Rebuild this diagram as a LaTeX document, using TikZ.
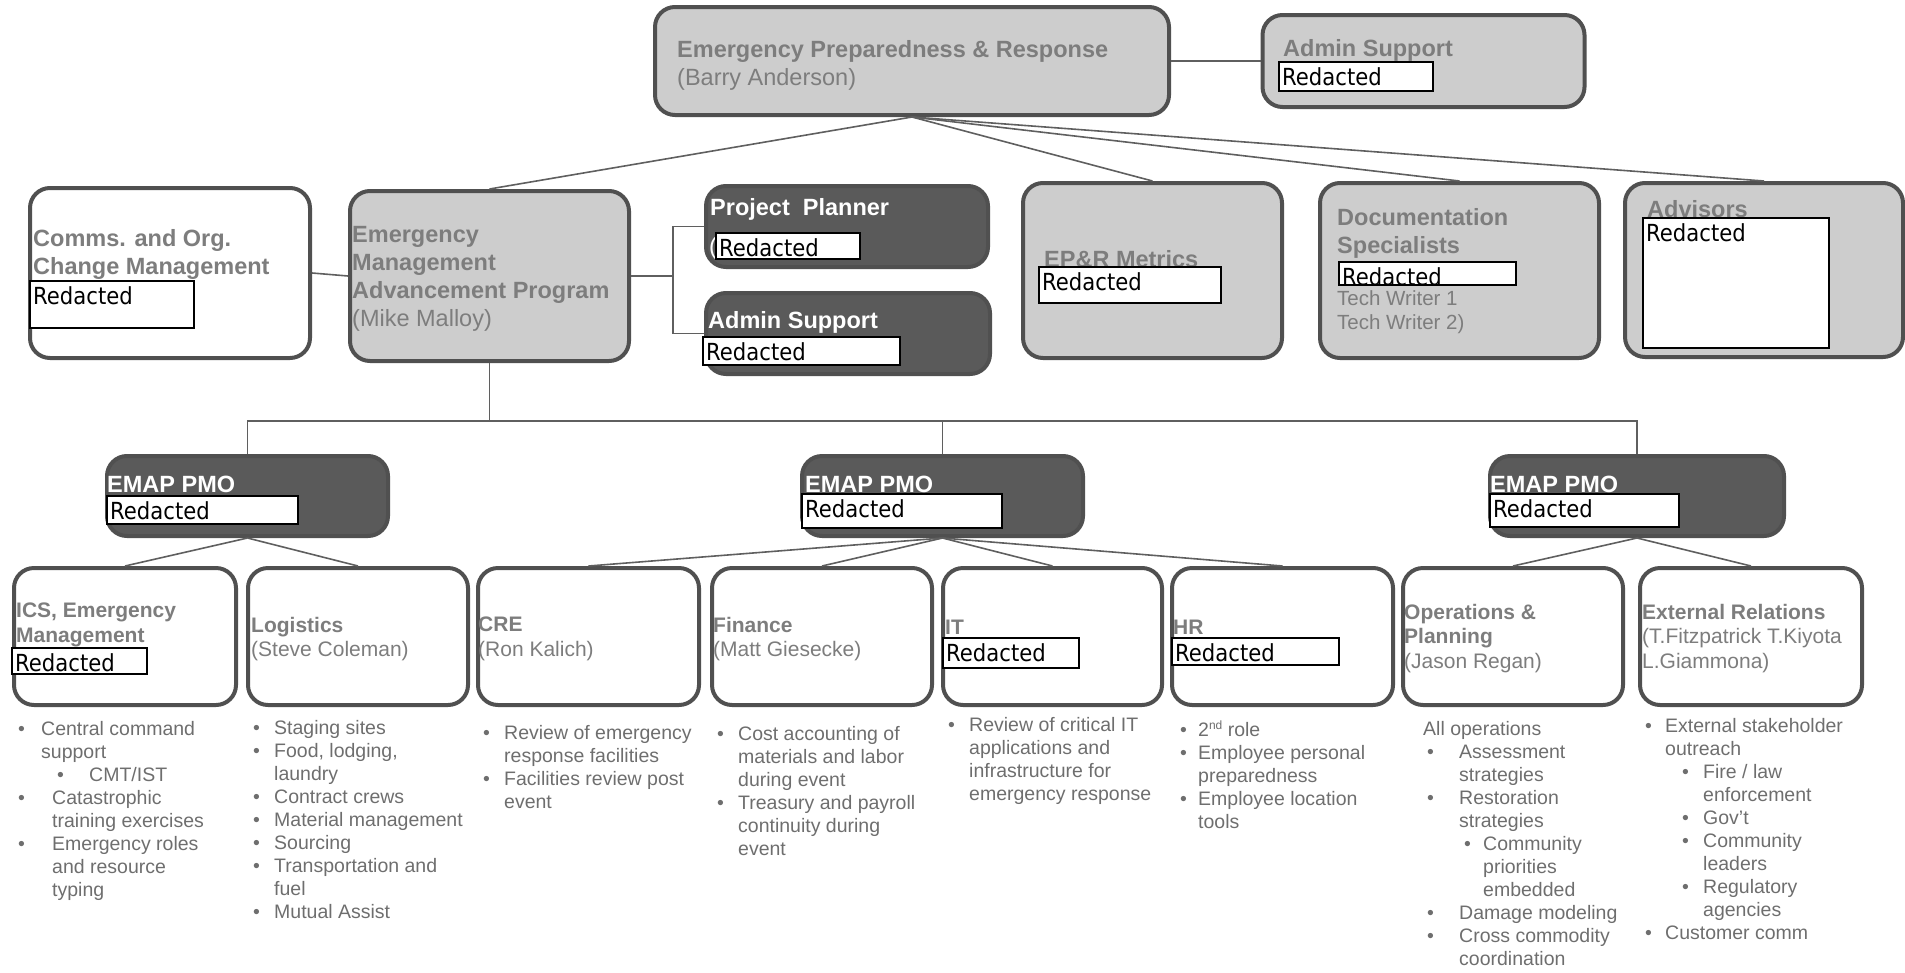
\documentclass[tikz,border=0pt]{standalone}
\usepackage{fontspec}
\setmainfont{Liberation Sans}
\newfontfamily\redfont[FakeStretch=0.9]{DejaVu Sans}
\definecolor{boxline}{HTML}{505050}
\definecolor{lightfill}{HTML}{CDCDCD}
\definecolor{darkfill}{HTML}{5A5A5A}
\definecolor{titlegray}{HTML}{7D7D7D}
\definecolor{listgray}{HTML}{6E6E6E}
\definecolor{linkgray}{HTML}{5F5F5F}
\newcommand{\itm}[1]{\makebox[#1][l]{\textbullet}}

\begin{document}
\begin{tikzpicture}[x=1pt, y=-1pt,
    lbox/.style={draw=boxline, line width=4pt, fill=lightfill, rounded corners=20pt, inner sep=0pt},
    dbox/.style={lbox, fill=darkfill},
    wbox/.style={lbox, fill=white},
    ttl/.style={anchor=north west, inner sep=0pt, align=left, text=titlegray,
        font=\fontsize{23.5}{28}\selectfont\bfseries, execute at begin node=\strut},
    wttl/.style={ttl, text=white},
    lttl/.style={ttl, font=\fontsize{21}{24.5}\selectfont\bfseries},
    lst/.style={anchor=north west, inner sep=0pt, align=left, text=listgray,
        font=\fontsize{19.5}{23}\selectfont, execute at begin node=\strut},
    redact/.style={anchor=north west, draw=black, line width=1.2pt, fill=white, inner sep=0pt, outer sep=0pt},
    redtxt/.style={anchor=north west, inner xsep=3pt, inner ysep=5pt, text=black,
        font=\redfont\fontsize{23.5}{25}\selectfont},
    link/.style={draw=linkgray, line width=1.6pt}]
    \useasboundingbox (0,0) rectangle (1905,972);

    % Top level: EP&R head and its admin support
    \node[lbox, minimum width=514pt, minimum height=108pt] (epr) at (912,61) {};
    \node[ttl] (eprtxt) at (677,40) {Emergency Preparedness \& Response\\{\mdseries (Barry Anderson)}};
    \node[lbox, minimum width=322pt, minimum height=92pt] (adm) at (1423.5,61) {};
    \node[ttl] (admtxt) at (1283,37) {Admin Support};
    \node[redact, minimum width=154pt, minimum height=29pt] (admred) at (1279,62) {};
    \node[redtxt] (admredtxt) at (admred.north west) {Redacted};

    % Second level
    \node[wbox, minimum width=280pt, minimum height=170pt] (comms) at (170,273) {};
    \node[ttl] (commstxt) at (33,229) {Comms. and Org.\\Change Management};
    \node[redact, minimum width=164pt, minimum height=47pt] (commsred) at (30,281) {};
    \node[redtxt] (commsredtxt) at (commsred.north west) {Redacted};

    \node[lbox, minimum width=279pt, minimum height=170pt] (emap) at (489.5,276) {};
    \node[ttl] (emaptxt) at (352,226) {Emergency\\Management\\Advancement Program\\{\mdseries (Mike Malloy)}};

    \node[dbox, minimum width=282pt, minimum height=81pt] (pp) at (847,226.5) {};
    \node[wttl] (pptxt) at (710,196) {Project\ \ Planner};
    \node[anchor=base west, inner sep=0pt, text=white, font=\fontsize{23.5}{27}\selectfont] (ppparen) at (709,254) {(};
    \node[redact, minimum width=144pt, minimum height=26pt] (ppred) at (716,233) {};
    \node[redtxt] (ppredtxt) at (ppred.north west) {Redacted};

    \node[dbox, minimum width=284pt, minimum height=81pt] (asb) at (848,333.5) {};
    \node[wttl] (asbtxt) at (708,309) {Admin Support};
    \node[redact, minimum width=197pt, minimum height=28pt] (asbred) at (703,337) {};
    \node[redtxt] (asbredtxt) at (asbred.north west) {Redacted};

    \node[lbox, minimum width=259pt, minimum height=175pt] (met) at (1152.5,270.5) {};
    \node[ttl] (mettxt) at (1044,248) {EP\&R Metrics};
    \node[redact, minimum width=182pt, minimum height=36pt] (metred) at (1039,267) {};
    \node[redtxt] (metredtxt) at (metred.north west) {Redacted};

    \node[lbox, minimum width=279pt, minimum height=175pt] (doc) at (1459.5,270.5) {};
    \node[ttl] (doctxt) at (1337,208) {Documentation\\Specialists};
    \node[redact, minimum width=177pt, minimum height=23pt] (docred) at (1339,262) {};
    \node[redtxt] (docredtxt) at (docred.north west) {Redacted};
    \node[ttl, font=\fontsize{20.5}{24}\selectfont] (doctw) at (1337,290) {Tech Writer 1\\Tech Writer 2)};

    \node[lbox, minimum width=278pt, minimum height=174pt] (adv) at (1764,270) {};
    \node[ttl] (advtxt) at (1647,198) {Advisors};
    \node[redact, minimum width=186pt, minimum height=130pt] (advred) at (1643,218) {};
    \node[redtxt] (advredtxt) at (advred.north west) {Redacted};

    % Third level: the three EMAP PMO boxes
    \node[dbox, minimum width=281pt, minimum height=80pt] (pmo1) at (247.5,496) {};
    \node[wttl] (pmo1txt) at (107,473) {EMAP PMO};
    \node[redact, minimum width=191pt, minimum height=28pt] (pmo1red) at (107,496) {};
    \node[redtxt] (pmo1redtxt) at (pmo1red.north west) {Redacted};

    \node[dbox, minimum width=281pt, minimum height=80pt] (pmo2) at (942.5,496) {};
    \node[wttl] (pmo2txt) at (805,473) {EMAP PMO};
    \node[redact, minimum width=200pt, minimum height=34pt] (pmo2red) at (802,494) {};
    \node[redtxt] (pmo2redtxt) at (pmo2red.north west) {Redacted};

    \node[dbox, minimum width=294pt, minimum height=80pt] (pmo3) at (1637,496) {};
    \node[wttl] (pmo3txt) at (1490,473) {EMAP PMO};
    \node[redact, minimum width=189pt, minimum height=33pt] (pmo3red) at (1490,494) {};
    \node[redtxt] (pmo3redtxt) at (pmo3red.north west) {Redacted};

    % Fourth level: the functions
    \node[wbox, minimum width=222pt, minimum height=137pt] (ics) at (125,636.5) {};
    \node[lttl] (icstxt) at (16,603) {ICS, Emergency\\Management};
    \node[redact, minimum width=135pt, minimum height=26pt] (icsred) at (12,648) {};
    \node[redtxt] (icsredtxt) at (icsred.north west) {Redacted};

    \node[wbox, minimum width=220pt, minimum height=137pt] (log) at (358,636.5) {};
    \node[lttl] (logtxt) at (251,617) {Logistics\\{\mdseries (Steve Coleman)}};

    \node[wbox, minimum width=221pt, minimum height=137pt] (cre) at (588.5,636.5) {};
    \node[lttl] (cretxt) at (478,617) {CRE\\{\mdseries (Ron Kalich)}};

    \node[wbox, minimum width=220pt, minimum height=137pt] (fin) at (822,636.5) {};
    \node[lttl] (fintxt) at (713,617) {Finance\\{\mdseries (Matt Giesecke)}};

    \node[wbox, minimum width=219pt, minimum height=137pt] (it) at (1052.5,636.5) {};
    \node[lttl] (ittxt) at (945,617) {IT};
    \node[redact, minimum width=136pt, minimum height=30pt] (itred) at (943,638) {};
    \node[redtxt] (itredtxt) at (itred.north west) {Redacted};

    \node[wbox, minimum width=221pt, minimum height=137pt] (hr) at (1282.5,636.5) {};
    \node[lttl] (hrtxt) at (1173,617) {HR};
    \node[redact, minimum width=167pt, minimum height=27pt] (hrred) at (1172,638) {};
    \node[redtxt] (hrredtxt) at (hrred.north west) {Redacted};

    \node[wbox, minimum width=220pt, minimum height=137pt] (ops) at (1513,636.5) {};
    \node[lttl] (opstxt) at (1404,604) {Operations \&\\Planning\\{\mdseries (Jason Regan)}};

    \node[wbox, minimum width=222pt, minimum height=137pt] (ext) at (1751,636.5) {};
    \node[lttl] (exttxt) at (1642,604) {External Relations\\{\mdseries (T.Fitzpatrick T.Kiyota}\\{\mdseries L.Giammona)}};

    % Bullet lists under the functions
    \node[lst] (icslst) at (18,721) {\itm{23pt}Central command\\
        \hspace*{23pt}support\\
        \hspace*{39pt}\itm{32pt}CMT/IST\\
        \itm{34pt}Catastrophic\\
        \hspace*{34pt}training exercises\\
        \itm{34pt}Emergency roles\\
        \hspace*{34pt}and resource\\
        \hspace*{34pt}typing};
    \node[lst] (loglst) at (253,720) {\itm{21pt}Staging sites\\
        \itm{21pt}Food, lodging,\\
        \hspace*{21pt}laundry\\
        \itm{21pt}Contract crews\\
        \itm{21pt}Material management\\
        \itm{21pt}Sourcing\\
        \itm{21pt}Transportation and\\
        \hspace*{21pt}fuel\\
        \itm{21pt}Mutual Assist};
    \node[lst] (crelst) at (483,725) {\itm{21pt}Review of emergency\\
        \hspace*{21pt}response facilities\\
        \itm{21pt}Facilities review post\\
        \hspace*{21pt}event};
    \node[lst] (finlst) at (717,726) {\itm{21pt}Cost accounting of\\
        \hspace*{21pt}materials and labor\\
        \hspace*{21pt}during event\\
        \itm{21pt}Treasury and payroll\\
        \hspace*{21pt}continuity during\\
        \hspace*{21pt}event};
    \node[lst] (itlst) at (948,717) {\itm{21pt}Review of critical IT\\
        \hspace*{21pt}applications and\\
        \hspace*{21pt}infrastructure for\\
        \hspace*{21pt}emergency response};
    \node[lst] (hrlst) at (1180,721) {\itm{18pt}2\raisebox{7pt}{\fontsize{12}{12}\selectfont nd} role\\
        \itm{18pt}Employee personal\\
        \hspace*{18pt}preparedness\\
        \itm{18pt}Employee location\\
        \hspace*{18pt}tools};
    \node[lst] (opslst) at (1423,721) {All operations\\
        \hspace*{4pt}\itm{32pt}Assessment\\
        \hspace*{36pt}strategies\\
        \hspace*{4pt}\itm{32pt}Restoration\\
        \hspace*{36pt}strategies\\
        \hspace*{41pt}\itm{19pt}Community\\
        \hspace*{60pt}priorities\\
        \hspace*{60pt}embedded\\
        \hspace*{4pt}\itm{32pt}Damage modeling\\
        \hspace*{4pt}\itm{32pt}Cross commodity\\
        \hspace*{36pt}coordination};
    \node[lst] (extlst) at (1645,718) {\itm{20pt}External stakeholder\\
        \hspace*{20pt}outreach\\
        \hspace*{37pt}\itm{21pt}Fire / law\\
        \hspace*{58pt}enforcement\\
        \hspace*{37pt}\itm{21pt}Gov’t\\
        \hspace*{37pt}\itm{21pt}Community\\
        \hspace*{58pt}leaders\\
        \hspace*{37pt}\itm{21pt}Regulatory\\
        \hspace*{58pt}agencies\\
        \itm{20pt}Customer comm};

    % Connectors
    \draw[link] (epr.east) -- (adm.west);
    \foreach \n in {emap, met, doc, adv}
        \draw[link] (epr.south) -- (\n.north);
    \draw[link] (comms.east) -- (emap.west);
    \draw[link] (emap.east) -- ++(42,0) coordinate (fork);
    \draw[link] (pp.west) -| (fork) |- (asb.west);
    \draw[link] (emap.south) -- ++(0,58) coordinate (bus);
    \draw[link] (pmo1.north) |- (bus) -| (pmo3.north);
    \draw[link] (pmo2.north) -- (pmo2.north |- bus);
    \foreach \n in {ics, log}
        \draw[link] (pmo1.south) -- (\n.north);
    \foreach \n in {cre, fin, it, hr}
        \draw[link] (pmo2.south) -- (\n.north);
    \foreach \n in {ops, ext}
        \draw[link] (pmo3.south) -- (\n.north);

\end{tikzpicture}
\end{document}
